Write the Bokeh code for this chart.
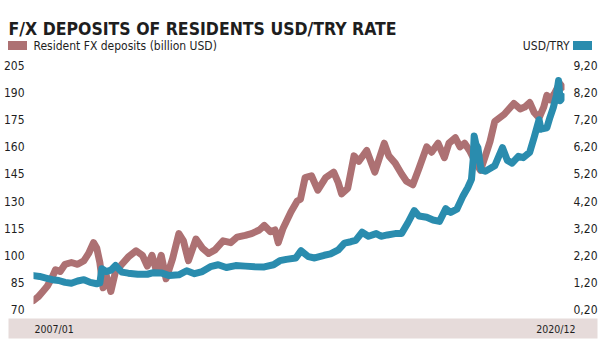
import pandas as pd
from bokeh.plotting import figure
from bokeh.layouts import column
from bokeh.models import (ColumnDataSource, Range1d, LinearAxis, FixedTicker,
                          CustomJSTickFormatter)
from bokeh.core.properties import value
from bokeh.embed import file_html
from bokeh.resources import INLINE

# ---------------- data ----------------
title_text = "F/X DEPOSITS OF RESIDENTS USD/TRY RATE"
dep_label = "Resident FX deposits (billion USD)"
usd_label = "USD/TRY"
x_labels = ["2007/01", "2020/12"]
x_start = "2007-01-01"
x_end = "2021-01-01"

left_ticks = [70, 85, 100, 115, 130, 145, 160, 175, 190, 205]
right_ticks = [0.2, 1.2, 2.2, 3.2, 4.2, 5.2, 6.2, 7.2, 8.2, 9.2]

dep_dates = [
    "2007-01-01", "2007-02-15", "2007-04-01", "2007-05-15", "2007-07-01", "2007-08-01",
    "2007-09-15", "2007-11-01", "2008-01-01", "2008-03-01", "2008-05-01", "2008-06-15",
    "2008-08-01", "2008-09-01", "2008-10-01", "2008-11-01", "2008-12-01", "2009-01-15",
    "2009-03-01", "2009-05-01", "2009-07-01", "2009-09-15", "2009-11-15", "2010-01-01",
    "2010-02-15", "2010-04-01", "2010-05-15", "2010-07-01", "2010-09-01", "2010-11-01",
    "2010-12-15", "2011-02-01", "2011-04-15", "2011-06-15", "2011-08-15", "2011-10-15",
    "2012-01-01", "2012-03-15", "2012-05-15", "2012-08-01", "2012-10-01", "2012-12-15",
    "2013-02-01", "2013-04-01", "2013-05-15", "2013-06-15", "2013-08-01", "2013-10-15",
    "2013-12-15", "2014-01-15", "2014-03-01", "2014-05-01", "2014-07-01", "2014-09-15",
    "2014-12-01", "2015-01-15", "2015-02-15", "2015-04-15", "2015-06-15", "2015-08-01",
    "2015-10-15", "2016-01-01", "2016-04-01", "2016-05-15", "2016-07-15", "2016-09-15",
    "2016-11-01", "2017-01-01", "2017-03-01", "2017-05-15", "2017-07-01", "2017-09-01",
    "2017-11-01", "2017-12-15", "2018-02-15", "2018-04-01", "2018-05-15", "2018-07-01",
    "2018-09-01", "2018-10-15", "2018-12-01", "2019-01-15", "2019-03-01", "2019-06-01",
    "2019-09-01", "2019-11-01", "2019-12-15", "2020-02-01", "2020-03-15", "2020-05-01",
    "2020-06-15", "2020-07-15", "2020-08-15", "2020-10-01", "2020-11-15", "2020-12-15",
]
dep_values = [
    75, 77, 80, 83, 88, 92,
    91, 95, 96, 95, 97, 101,
    107, 104, 96, 82, 89, 80,
    91, 95, 99, 102.5, 100, 94,
    100, 91, 100, 87, 98, 112,
    108, 97, 109, 104, 101, 103,
    108, 107, 110, 111, 112, 114,
    116.5, 113, 114, 107, 115, 124,
    130, 131, 143, 144, 136, 143,
    146, 140, 134, 137, 155, 152,
    158, 146, 162, 155, 151, 145,
    141, 139, 148, 160, 157, 162,
    154, 162, 165, 160, 162, 158,
    151, 147, 155, 163, 174, 178,
    184, 181, 182, 184.5, 179, 176,
    182, 188.5, 186, 190, 195, 193,
]

usd_dates = [
    "2007-01-01", "2007-03-01", "2007-05-01", "2007-07-01", "2007-09-01", "2007-11-01",
    "2008-01-01", "2008-03-01", "2008-05-01", "2008-07-01", "2008-09-01", "2008-10-01",
    "2008-10-20", "2008-12-01", "2009-01-15", "2009-03-01", "2009-05-01", "2009-07-01",
    "2009-10-01", "2010-01-01", "2010-03-01", "2010-05-15", "2010-08-01", "2010-11-01",
    "2011-01-15", "2011-04-01", "2011-06-15", "2011-09-01", "2011-11-15", "2012-02-01",
    "2012-05-01", "2012-08-01", "2012-11-01", "2013-02-01", "2013-05-01", "2013-07-01",
    "2013-09-01", "2013-12-01", "2014-01-20", "2014-04-01", "2014-06-01", "2014-09-01",
    "2014-11-01", "2015-01-15", "2015-03-15", "2015-05-15", "2015-07-01", "2015-09-01",
    "2015-11-01", "2016-01-15", "2016-03-01", "2016-05-01", "2016-07-15", "2016-09-15",
    "2016-11-15", "2017-01-15", "2017-03-01", "2017-05-15", "2017-07-15", "2017-09-15",
    "2017-11-15", "2018-01-01", "2018-03-01", "2018-05-01", "2018-06-15", "2018-07-20",
    "2018-08-05", "2018-08-15", "2018-09-01", "2018-09-20", "2018-10-20", "2018-12-01",
    "2019-01-15", "2019-03-01", "2019-04-15", "2019-05-15", "2019-07-01", "2019-08-15",
    "2019-10-15", "2019-12-01", "2020-02-01", "2020-03-15", "2020-05-01", "2020-05-20",
    "2020-07-15", "2020-08-15", "2020-09-15", "2020-10-15", "2020-11-05", "2020-11-20",
    "2020-12-20",
]
usd_values = [
    1.45, 1.42, 1.36, 1.30, 1.27, 1.20,
    1.17, 1.25, 1.30, 1.20, 1.15, 1.18,
    1.70, 1.60, 1.65, 1.82, 1.58, 1.54,
    1.50, 1.50, 1.56, 1.55, 1.45, 1.48,
    1.63, 1.52, 1.60, 1.78, 1.85, 1.75,
    1.82, 1.80, 1.78, 1.77, 1.85, 2.00,
    2.05, 2.10, 2.37, 2.15, 2.10, 2.20,
    2.25, 2.40, 2.65, 2.70, 2.75, 3.05,
    2.90, 3.00, 2.90, 2.95, 3.00, 3.00,
    3.40, 3.85, 3.65, 3.60, 3.50, 3.45,
    3.92, 3.78, 3.90, 4.40, 4.70, 5.00,
    5.70, 6.60, 6.30, 6.17, 5.35, 5.30,
    5.40, 5.50, 5.90, 6.17, 5.70, 5.60,
    5.85, 5.80, 6.00, 6.55, 7.20, 6.85,
    6.90, 7.30, 7.65, 8.10, 8.65, 7.90,
    8.05,
]

# ---------------- style ----------------
FONT = "DejaVu Sans Condensed"
MAUVE = "#ad7173"
BLUE = "#2a8cae"
BAND = "#e6dbda"
INK = "#1e1e1e"
W = 608

# ---------------- header ----------------
hdr = figure(width=W, height=56, x_range=Range1d(0, W), y_range=Range1d(56, 0),
             output_backend="svg", toolbar_location=None, x_axis_location=None,
             y_axis_location=None, min_border=0, frame_align=False)
hdr.grid.visible = False
hdr.outline_line_color = None
hdr.text(x=[8], y=[28], text=[title_text], text_font=value(FONT),
         text_font_size="17.5px", text_font_style="bold", text_color=INK,
         text_baseline="alphabetic")
hdr.rect(x=[17], y=[45], width=19, height=9, fill_color=MAUVE, line_color=None)
hdr.text(x=[33], y=[45], text=[dep_label], text_font=value(FONT),
         text_font_size="12px", text_color=INK, text_baseline="middle")
hdr.rect(x=[582], y=[45], width=19, height=9, fill_color=BLUE, line_color=None)
hdr.text(x=[569], y=[45], text=[usd_label], text_font=value(FONT),
         text_font_size="12px", text_color=INK, text_baseline="middle",
         text_align="right")

# ---------------- main chart ----------------
t0 = pd.Timestamp(x_start)
t1 = pd.Timestamp(x_end)
p = figure(width=W, height=262, x_axis_type="datetime", x_axis_location=None,
           x_range=Range1d(t0, t1), y_range=Range1d(left_ticks[0], left_ticks[-1]),
           output_backend="svg", toolbar_location=None,
           min_border_left=28, min_border_right=44, min_border_top=9,
           min_border_bottom=9, frame_align=False)
p.extra_y_ranges = {"usd": Range1d(right_ticks[0], right_ticks[-1])}
p.grid.visible = False
p.outline_line_color = None

dep_src = ColumnDataSource(dict(x=pd.to_datetime(dep_dates), y=dep_values))
usd_src = ColumnDataSource(dict(x=pd.to_datetime(usd_dates), y=usd_values))
p.line("x", "y", source=dep_src, line_color=MAUVE, line_width=7,
       line_join="round", line_cap="round")
p.line("x", "y", source=usd_src, line_color=BLUE, line_width=7,
       line_join="round", line_cap="round", y_range_name="usd")

ax = p.yaxis[0]
ax.ticker = FixedTicker(ticks=left_ticks)
raxis = LinearAxis(y_range_name="usd", ticker=FixedTicker(ticks=right_ticks),
                   formatter=CustomJSTickFormatter(code="return tick.toFixed(2).replace('.', ',');"))
p.add_layout(raxis, "right")
for a in (ax, raxis):
    a.axis_line_color = None
    a.major_tick_line_color = None
    a.minor_tick_line_color = None
    a.major_label_standoff = 3
    a.major_label_text_font = FONT
    a.major_label_text_font_size = "12px"
    a.major_label_text_color = INK

# ---------------- date band ----------------
ms0 = t0.value / 1e6
ms1 = t1.value / 1e6
frame_px = W - 28 - 44
per_px = (ms1 - ms0) / frame_px
band = figure(width=W, height=34, x_range=Range1d(ms0 - 20 * per_px, ms1 + 33 * per_px),
              y_range=Range1d(0, 1), output_backend="svg", toolbar_location=None,
              x_axis_location=None, y_axis_location=None,
              min_border_left=8, min_border_right=11, min_border_top=0,
              min_border_bottom=14, frame_align=False)
band.grid.visible = False
band.outline_line_color = None
band.background_fill_color = BAND
band.text(x=[ms0], y=[0.5], text=[x_labels[0]], text_font=value(FONT),
          text_font_size="10.5px", text_color=INK, text_baseline="middle",
          text_align="left", x_offset=6)
band.text(x=[ms1], y=[0.5], text=[x_labels[1]], text_font=value(FONT),
          text_font_size="10.5px", text_color=INK, text_baseline="middle",
          text_align="right", x_offset=11)

layout = column(hdr, p, band, spacing=0)
open("out.html", "w").write(file_html(layout, INLINE))
